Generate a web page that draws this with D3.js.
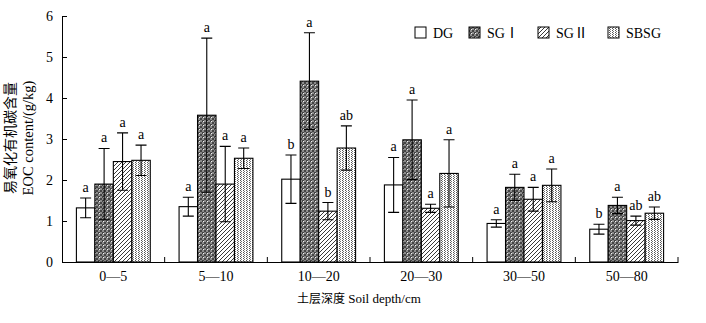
<!DOCTYPE html>
<html><head><meta charset="utf-8">
<script src="https://cdn.jsdelivr.net/npm/d3@7"></script>
<style>
body{margin:0;background:#fff;}
svg{display:block;}
text{font-family:"Liberation Serif","Times New Roman","Noto Sans CJK SC",serif;fill:#000;}
</style></head>
<body><svg id="c" width="706" height="323"></svg>
<script>
const categories = ["0—5","5—10","10—20","20—30","30—50","50—80"];
const seriesNames = ["DG","SGⅠ","SGⅡ","SBSG"];
const DG     = [1.32,1.35,2.02,1.88,0.94,0.80];
const DG_err = [0.24,0.23,0.59,0.67,0.09,0.12];
const SG1     = [1.90,3.58,4.41,2.98,1.82,1.38];
const SG1_err = [0.87,1.88,1.18,0.97,0.32,0.20];
const SG2     = [2.45,1.90,1.24,1.31,1.53,1.01];
const SG2_err = [0.70,0.92,0.21,0.10,0.29,0.11];
const SBSG     = [2.48,2.53,2.78,2.16,1.87,1.19];
const SBSG_err = [0.37,0.25,0.54,0.82,0.40,0.15];
const DG_sig   = ["a","a","b","a","a","b"];
const SG1_sig  = ["a","a","a","a","a","a"];
const SG2_sig  = ["a","a","b","a","a","ab"];
const SBSG_sig = ["a","a","ab","a","a","ab"];
const yTicks = [0,1,2,3,4,5,6];

const seriesVals = [DG,SG1,SG2,SBSG];
const seriesErr = [DG_err,SG1_err,SG2_err,SBSG_err];
const seriesSig = [DG_sig,SG1_sig,SG2_sig,SBSG_sig];
const fills = ["#fff","url(#pSG1)","url(#pSG2)","url(#pSBSG)"];

const svg = d3.select("#c");
const defs = svg.append("defs");
// SG I pattern: dark checker with white dots
let p = defs.append("pattern").attr("id","pSG1").attr("patternUnits","userSpaceOnUse").attr("width",4).attr("height",4);
p.append("rect").attr("width",4).attr("height",4).attr("fill","#444");
p.append("rect").attr("x",0).attr("y",0).attr("width",2).attr("height",2).attr("fill","#8c8c8c");
p.append("rect").attr("x",2).attr("y",2).attr("width",2).attr("height",2).attr("fill","#8c8c8c");
p.append("rect").attr("x",3).attr("y",1).attr("width",1).attr("height",1).attr("fill","#f4f4f4");
// SG II pattern: diagonal lines
p = defs.append("pattern").attr("id","pSG2").attr("patternUnits","userSpaceOnUse").attr("width",4).attr("height",4);
p.append("rect").attr("width",4).attr("height",4).attr("fill","#fff");
p.append("path").attr("d","M-1,5 L5,-1 M-2,2 L2,-2 M2,6 L6,2").attr("stroke","#222").attr("stroke-width",0.9);
// SBSG pattern: fine dots
p = defs.append("pattern").attr("id","pSBSG").attr("patternUnits","userSpaceOnUse").attr("width",3).attr("height",2);
p.append("rect").attr("width",3).attr("height",2).attr("fill","#fff");
p.append("rect").attr("x",0).attr("y",0).attr("width",1).attr("height",1).attr("fill","#555");
p.append("rect").attr("x",1).attr("y",1).attr("width",1).attr("height",1).attr("fill","#777");

const mLeft = 62, mRight = 678, mTop = 16, mBottom = 262;
const x = d3.scaleBand().domain(categories).range([mLeft,mRight]).padding(0);
const x1 = d3.scaleBand().domain(seriesNames).range([0,x.bandwidth()]).paddingInner(0).paddingOuter(0.78);
const y = d3.scaleLinear().domain([0,6]).range([mBottom,mTop]);

// bars
seriesNames.forEach((s,si)=>{
  const g = svg.append("g");
  categories.forEach((c,ci)=>{
    const v = seriesVals[si][ci], e = seriesErr[si][ci];
    const bx = x(c)+x1(s), bw = x1.bandwidth();
    g.append("rect").attr("x",bx).attr("y",y(v)).attr("width",bw).attr("height",y(0)-y(v))
      .attr("fill",fills[si]).attr("stroke","#000").attr("stroke-width",1.1);
    const cx = bx+bw/2, hw = 5.5;
    g.append("path").attr("d",`M${cx},${y(v+e)}V${y(v-e)}M${cx-hw},${y(v+e)}H${cx+hw}M${cx-hw},${y(v-e)}H${cx+hw}`)
      .attr("stroke","#000").attr("stroke-width",1.1).attr("fill","none");
    g.append("text").attr("x",cx).attr("y",y(v+e)-6).attr("text-anchor","middle")
      .attr("font-size",14).text(seriesSig[si][ci]);
  });
});

// y axis
const ya = svg.append("g").attr("transform",`translate(${mLeft},0)`)
  .call(d3.axisLeft(y).tickValues(yTicks).tickFormat(d3.format("d")).tickSizeInner(-5).tickSizeOuter(0).tickPadding(9));
ya.selectAll("text").attr("font-size",14).attr("font-family","Liberation Serif");
ya.selectAll("line,path").attr("stroke","#000");

// x axis
const xa = svg.append("g").attr("transform",`translate(0,${mBottom})`)
  .call(d3.axisBottom(x).tickSize(0).tickPadding(9));
xa.selectAll("text").attr("font-size",14).attr("font-family","Liberation Serif");
xa.select("path").attr("stroke","#000");
const seps = categories.slice(1).map(c=>x(c)).concat([x.range()[1]]);
svg.append("g").selectAll("line").data(seps).join("line")
  .attr("x1",d=>d).attr("x2",d=>d).attr("y1",mBottom).attr("y2",mBottom-5).attr("stroke","#000");

// axis titles
svg.append("text").attr("transform","translate(10,138) rotate(-90)").attr("text-anchor","middle")
  .attr("dominant-baseline","central").attr("font-size",14).attr("font-family","Noto Sans CJK SC").text("易氧化有机碳含量");
svg.append("text").attr("transform","translate(27.5,138) rotate(-90)").attr("text-anchor","middle")
  .attr("dominant-baseline","central").attr("font-size",14.5).text("EOC content/(g/kg)");
svg.append("text").attr("x",297).attr("y",303).attr("text-anchor","start").attr("font-size",13)
  .html('<tspan font-family="Noto Sans CJK SC" font-size="12">土层深度</tspan> Soil depth/cm');

// legend
const legX = [415,469,538,608];
const lg = svg.append("g");
seriesNames.forEach((s,i)=>{
  lg.append("rect").attr("x",legX[i]).attr("y",27).attr("width",11).attr("height",11)
    .attr("fill",fills[i]).attr("stroke","#000").attr("stroke-width",1);
  lg.append("text").attr("x",legX[i]+18).attr("y",38).attr("font-size",14).text(s);
});
</script></body></html>
